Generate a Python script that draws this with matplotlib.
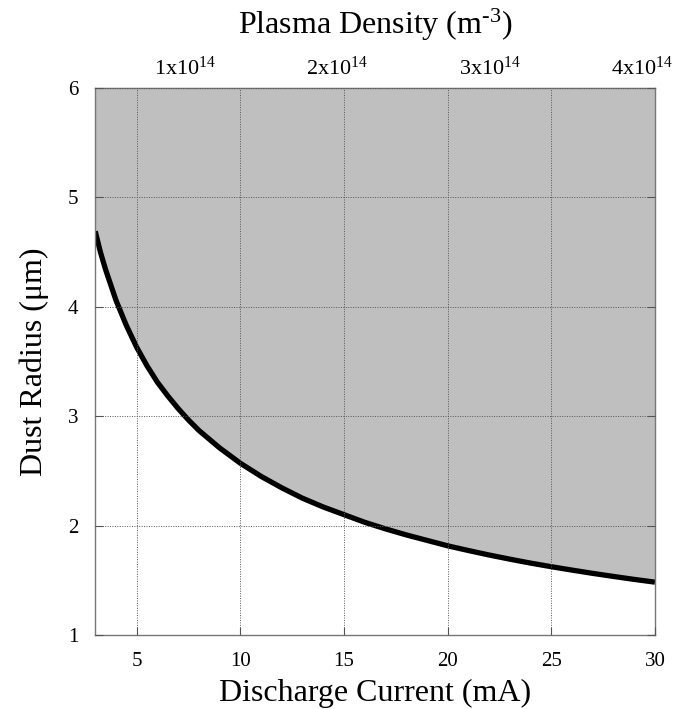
# plot.py
# minimum dust radius vs discharge current, with plasma density on the top axis

import matplotlib.pyplot as plt

plt.rcParams['font.family'] = ['Liberation Serif', 'DejaVu Serif']
plt.rcParams['mathtext.fontset'] = 'custom'
plt.rcParams['mathtext.rm'] = 'Liberation Serif'
plt.rcParams['mathtext.it'] = 'Liberation Serif:italic'

current = [3, 3.25, 3.5, 4, 4.5, 5, 5.5, 6, 6.5, 7, 7.5, 8, 9, 10, 11, 12, 13, 14, 15,
           16, 17, 18, 19, 20, 21, 22, 23, 24, 25, 26, 27, 28, 29, 30]
radius = [4.69, 4.50, 4.34, 4.06, 3.83, 3.63, 3.46, 3.31, 3.185, 3.07, 2.965, 2.87,
          2.71, 2.57, 2.45, 2.345, 2.25, 2.17, 2.10, 2.03, 1.97, 1.915, 1.865, 1.815,
          1.772, 1.731, 1.693, 1.657, 1.624, 1.593, 1.563, 1.535, 1.508, 1.483]

# density per mA of discharge current (m^-3)
dens_per_ma = 1.362e13
dens_ticks = [1e14, 2e14, 3e14, 4e14]
dens_labels = ['1x10$^{14}$', '2x10$^{14}$', '3x10$^{14}$', '4x10$^{14}$']
x_ticks = [5, 10, 15, 20, 25, 30]
y_ticks = [1, 2, 3, 4, 5, 6]

fig = plt.figure(figsize=(6.95, 7.09), dpi=100)
ax = fig.add_axes([0.137, 0.1044, 0.8054, 0.7715])

ax.fill_between(current, radius, 6, color='#bfbfbf', lw=0)
ax.plot(current, radius, color='black', lw=3.8, solid_capstyle='butt',
        solid_joinstyle='round')

ax.set_xlim(3, 30)
ax.set_ylim(1, 6)
ax.set_xticks(x_ticks)
ax.set_yticks(y_ticks)
ax.grid(True, color='#555555', linestyle=(0, (1, 1.5)), linewidth=0.7)
ax.set_axisbelow(False)

for s in ax.spines.values():
    s.set_color('#777777')
    s.set_linewidth(1.0)
ax.tick_params(direction='in', length=6, color='#555555', labelsize=15,
               right=True, top=False)
ax.tick_params(axis='x', pad=12)
ax.tick_params(axis='y', pad=12)

ax.set_xlabel('Discharge Current (mA)', fontsize=23, labelpad=6)
ax.set_ylabel('Dust Radius (\u03bcm)', fontsize=23, labelpad=14)

top = ax.secondary_xaxis('top', functions=(lambda i: i * dens_per_ma,
                                           lambda n: n / dens_per_ma))
top.set_xticks(dens_ticks)
top.set_xticklabels(dens_labels)
top.tick_params(direction='in', length=6, color='#555555', labelsize=16, pad=6)
top.spines['top'].set_color('#777777')
top.set_xlabel('Plasma Density (m$^{\\text{-3}}$)', fontsize=23, labelpad=16)

fig.savefig('out.png', dpi=100)
